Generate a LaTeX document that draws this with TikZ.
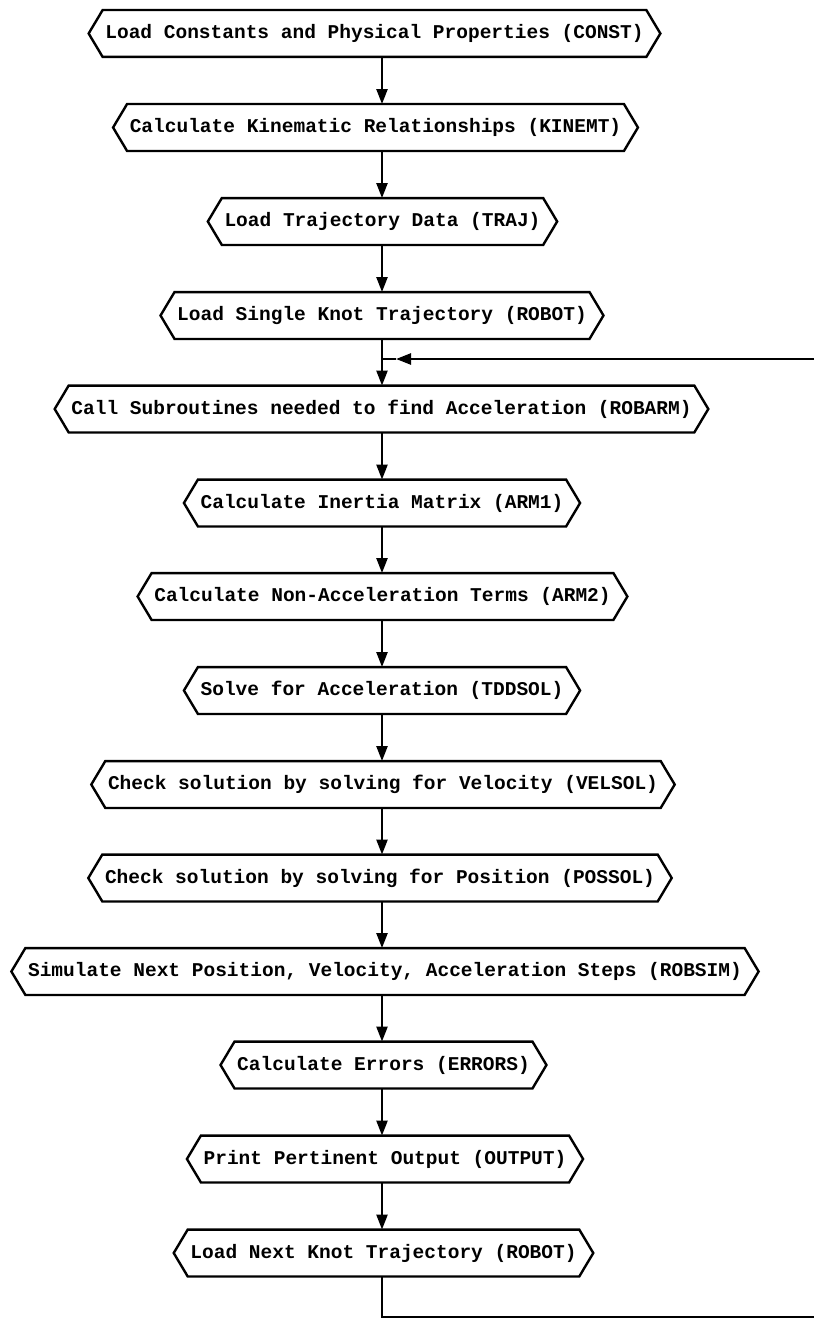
\documentclass[tikz,border=0pt]{standalone}
\usepackage{fontspec}
\setmainfont{Liberation Mono}
\usetikzlibrary{arrows.meta}
\begin{document}
\begin{tikzpicture}[x=1pt,y=-1pt,
  hexbox/.style={font=\bfseries\fontsize{19.5}{20}\selectfont, inner xsep=16.5pt, inner ysep=0pt,
    minimum height=46.5pt, text height=13pt, text depth=3pt},
  hexline/.style={line width=2.4pt, line join=miter},
  flow/.style={line width=2.4pt, -{Triangle[length=15pt,width=11pt]}},
  plain/.style={line width=2.4pt}]
\useasboundingbox (0,0) rectangle (814,1319);
\node[hexbox] (b1)  at (374.5,33.5)  {Load Constants and Physical Properties (CONST)};
\node[hexbox] (b2)  at (375.5,127.5) {Calculate Kinematic Relationships (KINEMT)};
\node[hexbox] (b3)  at (382.5,221.5) {Load Trajectory Data (TRAJ)};
\node[hexbox] (b4)  at (382,315.5)   {Load Single Knot Trajectory (ROBOT)};
\node[hexbox] (b5)  at (381.5,409)   {Call Subroutines needed to find Acceleration (ROBARM)};
\node[hexbox] (b6)  at (382,503)     {Calculate Inertia Matrix (ARM1)};
\node[hexbox] (b7)  at (382.5,596.5) {Calculate Non-Acceleration Terms (ARM2)};
\node[hexbox] (b8)  at (382,690.5)   {Solve for Acceleration (TDDSOL)};
\node[hexbox] (b9)  at (383,784.5)   {Check solution by solving for Velocity (VELSOL)};
\node[hexbox] (b10) at (380,878)     {Check solution by solving for Position (POSSOL)};
\node[hexbox] (b11) at (385,971.5)   {Simulate Next Position, Velocity, Acceleration Steps (ROBSIM)};
\node[hexbox] (b12) at (383.5,1065)  {Calculate Errors (ERRORS)};
\node[hexbox] (b13) at (385,1159)    {Print Pertinent Output (OUTPUT)};
\node[hexbox] (b14) at (383.5,1253)  {Load Next Knot Trajectory (ROBOT)};
\foreach \n in {b1,b2,b3,b4,b5,b6,b7,b8,b9,b10,b11,b12,b13,b14}
  \draw[hexline] (\n.west) -- ([xshift=14pt]\n.north west) -- ([xshift=-14pt]\n.north east)
    -- (\n.east) -- ([xshift=-14pt]\n.south east) -- ([xshift=14pt]\n.south west) -- cycle;
\coordinate (spine) at (382,0);
\foreach \a/\b in {b1/b2,b2/b3,b3/b4,b4/b5,b5/b6,b6/b7,b7/b8,b8/b9,b9/b10,b10/b11,b11/b12,b12/b13,b13/b14}
  \draw[flow] (\a.south -| spine) -- (\b.north -| spine);
\coordinate (junc) at (382,359);
\coordinate (jarr) at (396,359);
\coordinate (tr) at (814,359);
\coordinate (bl) at (382,1317);
\coordinate (br) at (814,1317);
\draw[plain] (b14.south -| spine) -- (bl) -- (br);
\draw[flow] (tr) -- (jarr);
\draw[plain] (jarr) -- (junc);
\end{tikzpicture}
\end{document}
